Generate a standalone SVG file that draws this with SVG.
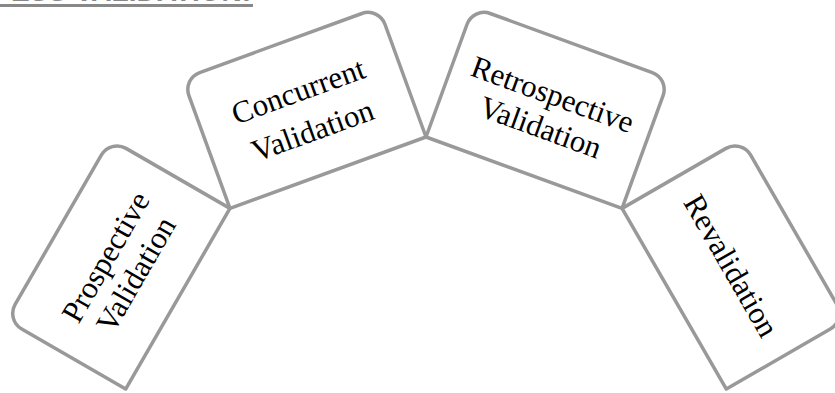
<svg xmlns="http://www.w3.org/2000/svg" xmlns:xlink="http://www.w3.org/1999/xlink" width="835" height="393" viewBox="0 0 835 393">
  <style>
    .card { fill: #ffffff; stroke: #999999; stroke-width: 3.5; stroke-linejoin: round; }
    .label { font-family: "Liberation Serif", "Times New Roman", serif; font-size: 31px; fill: #000000; text-anchor: middle; }
    .title { font-family: "Liberation Sans", Arial, sans-serif; font-size: 28px; font-weight: bold; fill: #888888; text-anchor: end; }
  </style>
  <defs>
    <!-- card: inner edge on y=0, rounded outer edge at y=-138 -->
    <path id="card" d="M -104.3 0 L -104.3 -120 A 18 18 0 0 1 -86.3 -138 L 86.3 -138 A 18 18 0 0 1 104.3 -120 L 104.3 0 Z"/>
  </defs>
  <rect width="835" height="393" fill="#ffffff"/>

  <!-- heading, cropped at the top edge -->
  <g id="heading">
    <text class="title" x="251" y="1">ESS VALIDATION:</text>
    <rect x="0" y="4" width="253" height="3" fill="#888888"/>
  </g>

  <!-- cards fanned around a common centre (426,442) -->
  <g id="prospective" transform="translate(426 442) rotate(-60) translate(0 -286.6)">
    <use xlink:href="#card" class="card"/>
    <text class="label" x="0" y="-73">Prospective</text>
    <text class="label" x="0" y="-38">Validation</text>
  </g>

  <g id="concurrent" transform="translate(426 442) rotate(-20) translate(0 -286.6)">
    <use xlink:href="#card" class="card"/>
    <text class="label" x="0" y="-76.5">Concurrent</text>
    <text class="label" x="0" y="-34.5">Validation</text>
  </g>

  <g id="retrospective" transform="translate(426 442) rotate(20) translate(0 -286.6)">
    <use xlink:href="#card" class="card"/>
    <text class="label" x="0" y="-73">Retrospective</text>
    <text class="label" x="0" y="-38">Validation</text>
  </g>

  <g id="revalidation" transform="translate(426 442) rotate(60) translate(0 -286.6)">
    <use xlink:href="#card" class="card"/>
    <text class="label" x="0" y="-55.5">Revalidation</text>
  </g>
</svg>
